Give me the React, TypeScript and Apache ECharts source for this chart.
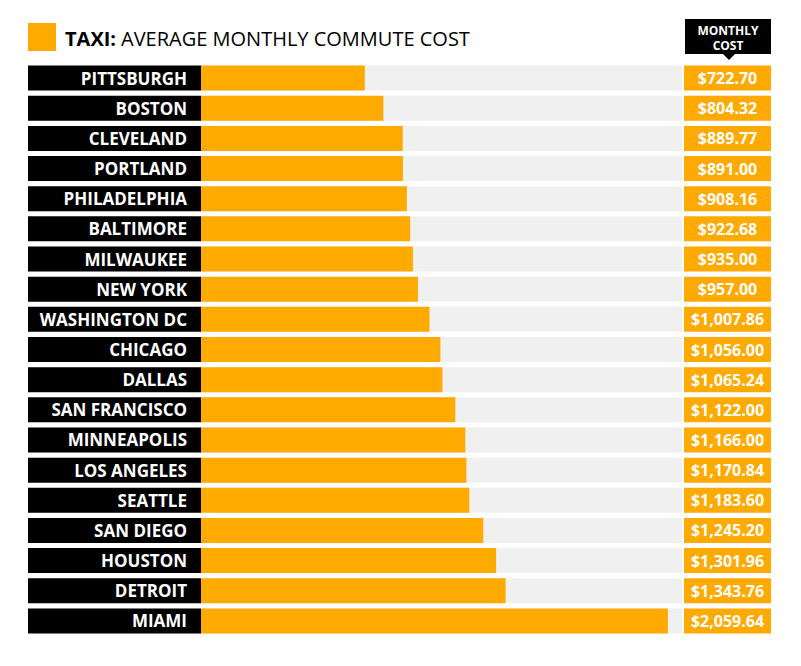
import React, { useEffect, useRef } from "react";
import * as echarts from "echarts";

const cities: string[] = [
  "PITTSBURGH", "BOSTON", "CLEVELAND", "PORTLAND", "PHILADELPHIA", "BALTIMORE",
  "MILWAUKEE", "NEW YORK", "WASHINGTON DC", "CHICAGO", "DALLAS", "SAN FRANCISCO",
  "MINNEAPOLIS", "LOS ANGELES", "SEATTLE", "SAN DIEGO", "HOUSTON", "DETROIT", "MIAMI",
];
const costs: number[] = [
  722.7, 804.32, 889.77, 891.0, 908.16, 922.68, 935.0, 957.0, 1007.86, 1056.0,
  1065.24, 1122.0, 1166.0, 1170.84, 1183.6, 1245.2, 1301.96, 1343.76, 2059.64,
];
const titleBold = "TAXI:";
const titleRest = "AVERAGE MONTHLY COMMUTE COST";
const headerLines = ["MONTHLY", "COST"];

const ORANGE = "#FFAA00";
const GRAY = "#F0F0F0";
const FONT = "'Open Sans', 'Noto Sans', sans-serif";

const fmt = (v: number) =>
  "$" + v.toLocaleString("en-US", { minimumFractionDigits: 2, maximumFractionDigits: 2 });

export default function App() {
  const ref = useRef<HTMLDivElement>(null);
  useEffect(() => {
    if (!ref.current) return;
    const chart = echarts.init(ref.current, null, { renderer: "svg" });
    const top = 63;
    const bottom = 30;
    const barW = 25;
    const ones = cities.map(() => 1);
    const catAxis = (gi: number) => ({
      type: "category" as const,
      gridIndex: gi,
      data: cities,
      inverse: true,
      show: false,
    });
    const valAxis = (gi: number, max: number) => ({
      type: "value" as const,
      gridIndex: gi,
      min: 0,
      max,
      show: false,
    });
    chart.setOption({
      animation: false,
      backgroundColor: "#ffffff",
      textStyle: { fontFamily: FONT },
      grid: [
        { left: 28, width: 173, top, bottom },
        { left: 201, right: 119, top, bottom },
        { left: 684, width: 87, top, bottom },
      ],
      xAxis: [valAxis(0, 1), valAxis(1, 2122), valAxis(2, 1)],
      yAxis: [catAxis(0), catAxis(1), catAxis(2)],
      series: [
        {
          type: "bar",
          xAxisIndex: 0,
          yAxisIndex: 0,
          data: ones,
          barWidth: barW,
          itemStyle: { color: "#000000" },
          label: {
            show: true,
            position: "insideRight",
            distance: 14,
            formatter: (p: any) => cities[p.dataIndex],
            color: "#ffffff",
            fontFamily: FONT,
            fontWeight: "bold",
            fontSize: 17,
          },
          silent: true,
        },
        {
          type: "bar",
          xAxisIndex: 1,
          yAxisIndex: 1,
          data: costs,
          barWidth: barW,
          itemStyle: { color: ORANGE },
          showBackground: true,
          backgroundStyle: { color: GRAY },
          silent: true,
        },
        {
          type: "bar",
          xAxisIndex: 2,
          yAxisIndex: 2,
          data: ones,
          barWidth: barW,
          itemStyle: { color: ORANGE },
          label: {
            show: true,
            position: "inside",
            formatter: (p: any) => fmt(costs[p.dataIndex]),
            color: "#ffffff",
            fontFamily: FONT,
            fontWeight: "bold",
            fontSize: 16,
          },
          silent: true,
        },
      ],
      graphic: [
        { type: "rect", shape: { x: 28, y: 23, width: 28, height: 28 }, style: { fill: ORANGE } },
        {
          type: "text",
          x: 65,
          y: 38.5,
          style: {
            text: titleBold,
            fill: "#000",
            font: `bold 20px ${FONT}`,
            verticalAlign: "middle",
          },
        },
        {
          type: "text",
          x: 121,
          y: 38.5,
          style: {
            text: titleRest,
            fill: "#000",
            font: `20px ${FONT}`,
            verticalAlign: "middle",
          },
        },
        { type: "rect", shape: { x: 685, y: 19, width: 86, height: 35 }, style: { fill: "#000" } },
        {
          type: "polygon",
          shape: { points: [[723, 54], [735, 54], [729, 60]] },
          style: { fill: "#000" },
        },
        {
          type: "text",
          x: 728,
          y: 30,
          style: {
            text: headerLines[0],
            fill: "#fff",
            font: `bold 12px ${FONT}`,
            align: "center",
            verticalAlign: "middle",
          },
        },
        {
          type: "text",
          x: 728,
          y: 45.5,
          style: {
            text: headerLines[1],
            fill: "#fff",
            font: `bold 12px ${FONT}`,
            align: "center",
            verticalAlign: "middle",
          },
        },
      ],
    });
    return () => chart.dispose();
  }, []);
  return <div ref={ref} style={{ width: 801, height: 666, position: "absolute", left: 0, top: 0 }} />;
}
